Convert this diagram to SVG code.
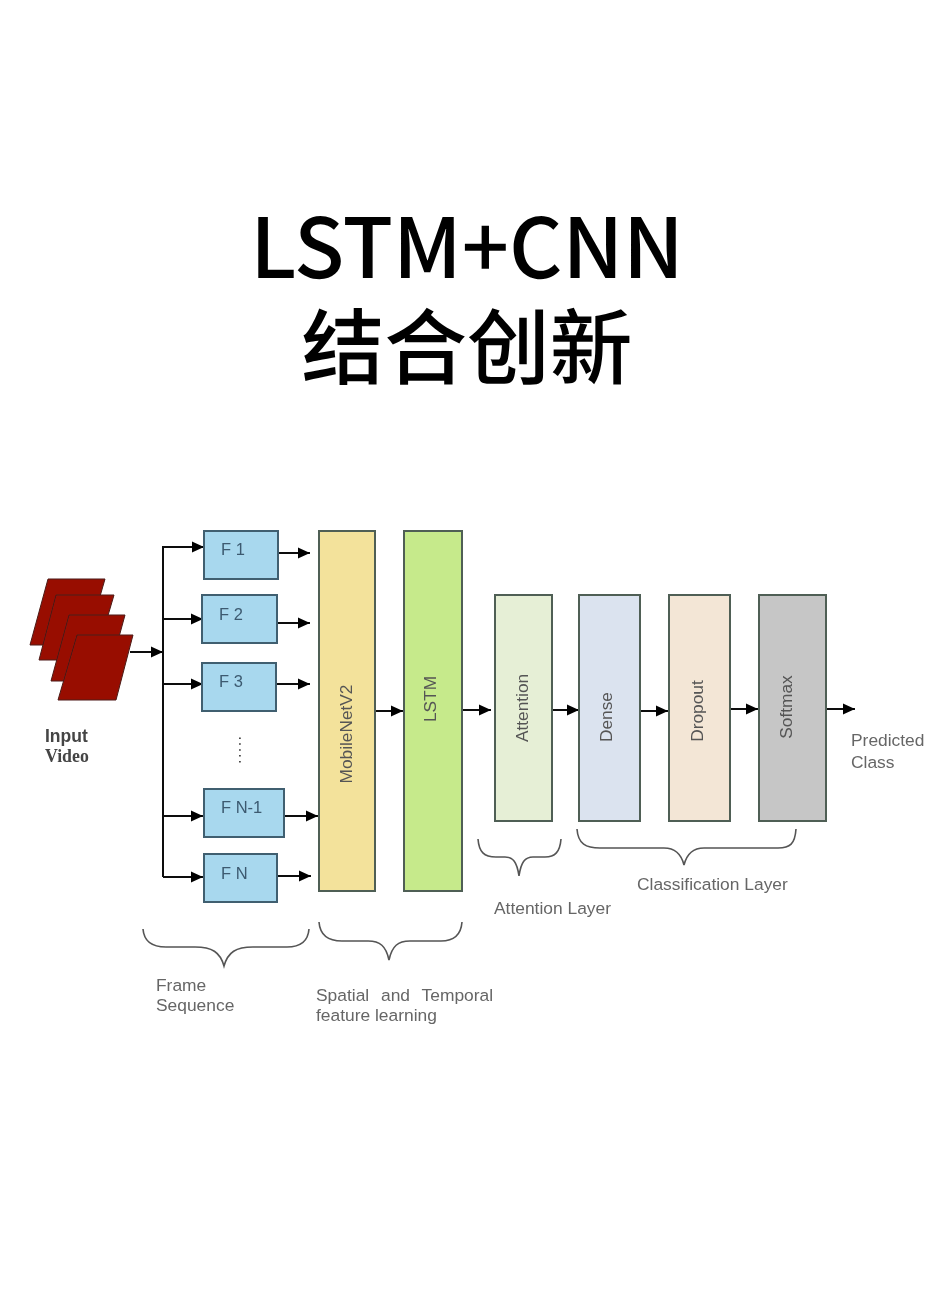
<svg xmlns="http://www.w3.org/2000/svg" width="934" height="1289" viewBox="0 0 934 1289">
<style>
.title{font-family:"Noto Sans CJK SC","Noto Sans",sans-serif;font-size:84px;font-weight:500;fill:#000;text-anchor:middle;text-rendering:geometricPrecision}
.box{stroke:#4f5f55;stroke-width:2}
.f{fill:#a8d8ee;stroke:#3f5f6f;stroke-width:2}
.fl{font-family:"Liberation Sans",Arial,sans-serif;font-size:16.5px;fill:#3c5a70}
.l{font-family:"Liberation Sans",Arial,sans-serif;font-size:17.4px;fill:#666}
.v{font-family:"Liberation Sans",Arial,sans-serif;font-size:17.3px;fill:#555;text-anchor:middle}
.c{fill:none;stroke:#111;stroke-width:2}
.b{fill:none;stroke:#555;stroke-width:1.6}
.p{fill:#981006;stroke:#4a1a14;stroke-width:1}
</style>
<defs>
<marker id="a" markerUnits="userSpaceOnUse" markerWidth="12" markerHeight="12" refX="12" refY="6" orient="auto"><path d="M0 0.5L12 6L0 11.5Z" fill="#000"/></marker>
<filter id="soft" filterUnits="userSpaceOnUse" x="0" y="480" width="934" height="600"><feGaussianBlur stdDeviation="0.45"/></filter>
</defs>
<rect width="934" height="1289" fill="#fff"/>
<text class="title" transform="translate(467 278) scale(.985)">LSTM+CNN</text>
<text class="title" transform="translate(467 378) scale(.985)">结合创新</text>
<g id="diagram" filter="url(#soft)">
<g id="input-video">
<polygon class="p" points="48,579 105,579 86,645 30,645"/>
<polygon class="p" points="56,595 114,595 95,660 39,660"/>
<polygon class="p" points="69,615 125,615 107,681 51,681"/>
<polygon class="p" points="77,635 133,635 116,700 58,700"/>
<text x="45" y="742" style="font-family:'Liberation Sans',sans-serif;font-size:17.5px;font-weight:bold;fill:#444">Input</text>
<text x="45" y="762" style="font-family:'Liberation Serif',serif;font-size:17.8px;font-weight:bold;fill:#444">Video</text>
</g>
<g id="connectors">
<path class="c" d="M130 652H163" marker-end="url(#a)"/>
<path class="c" d="M163 877V547H204" marker-end="url(#a)"/>
<path class="c" d="M163 619H203" marker-end="url(#a)"/>
<path class="c" d="M163 684H203" marker-end="url(#a)"/>
<path class="c" d="M163 816H203" marker-end="url(#a)"/>
<path class="c" d="M163 877H203" marker-end="url(#a)"/>
<path class="c" d="M277 553H310" marker-end="url(#a)"/>
<path class="c" d="M277 623H310" marker-end="url(#a)"/>
<path class="c" d="M277 684H310" marker-end="url(#a)"/>
<path class="c" d="M285 816H318" marker-end="url(#a)"/>
<path class="c" d="M277 876H311" marker-end="url(#a)"/>
<path class="c" d="M375 711H403" marker-end="url(#a)"/>
<path class="c" d="M462 710H491" marker-end="url(#a)"/>
<path class="c" d="M552 710H579" marker-end="url(#a)"/>
<path class="c" d="M641 711H668" marker-end="url(#a)"/>
<path class="c" d="M730 709H758" marker-end="url(#a)"/>
<path class="c" d="M826 709H855" marker-end="url(#a)"/>
</g>
<g id="f1"><rect class="f" x="204" y="531" width="74" height="48"/><text class="fl" x="221" y="555">F 1</text></g>
<g id="f2"><rect class="f" x="202" y="595" width="75" height="48"/><text class="fl" x="219" y="620">F 2</text></g>
<g id="f3"><rect class="f" x="202" y="663" width="74" height="48"/><text class="fl" x="219" y="687">F 3</text></g>
<g id="dots"><text x="238.5" y="736" style="font-family:'Liberation Sans',sans-serif;font-size:16px;fill:#444;letter-spacing:1.4px" transform="rotate(90 238.5 736)">.....</text></g>
<g id="fn1"><rect class="f" x="204" y="789" width="80" height="48"/><text class="fl" x="221" y="813">F N-1</text></g>
<g id="fn"><rect class="f" x="204" y="854" width="73" height="48"/><text class="fl" x="221" y="879">F N</text></g>
<g id="mobilenet"><rect class="box" x="319" y="531" width="56" height="360" fill="#f3e29b"/><text class="v" transform="translate(352 734) rotate(-90)">MobileNetV2</text></g>
<g id="lstm"><rect class="box" x="404" y="531" width="58" height="360" fill="#c6ea8b"/><text class="v" transform="translate(436 699) rotate(-90)">LSTM</text></g>
<g id="attention"><rect class="box" x="495" y="595" width="57" height="226" fill="#e6efd6"/><text class="v" transform="translate(528 708) rotate(-90)">Attention</text></g>
<g id="dense"><rect class="box" x="579" y="595" width="61" height="226" fill="#dbe3ef"/><text class="v" transform="translate(612 717) rotate(-90)">Dense</text></g>
<g id="dropout"><rect class="box" x="669" y="595" width="61" height="226" fill="#f3e6d6"/><text class="v" transform="translate(703 711) rotate(-90)">Dropout</text></g>
<g id="softmax"><rect class="box" x="759" y="595" width="67" height="226" fill="#c6c6c6"/><text class="v" transform="translate(792 707) rotate(-90)">Softmax</text></g>
<g id="braces">
<path class="b" d="M143 929C144 942 152 947 166 947H195C212 947 220 952 224 966C228 952 236 947 253 947H287C300 947 308 942 309 929"/>
<path class="b" d="M319 922C320 935 328 941 342 941H368C380 941 386 946 389 960C392 946 398 941 410 941H441C454 941 461 935 462 922"/>
<path class="b" d="M478 839C479 852 484 857 496 857H505C513 857 517 862 519 876C521 862 525 857 533 857H545C555 857 560 852 561 839"/>
<path class="b" d="M577 829C578 844 586 848 600 848H664C674 848 681 853 684 865C687 853 694 848 704 848H778C790 848 795 844 796 829"/>
</g>
<g id="labels">
<text class="l" x="156" y="991">Frame</text>
<text class="l" x="156" y="1011">Sequence</text>
<text class="l" x="316" y="1001" word-spacing="7">Spatial and Temporal</text>
<text class="l" x="316" y="1021">feature learning</text>
<text class="l" x="494" y="914">Attention Layer</text>
<text class="l" x="637" y="890">Classification Layer</text>
<text class="l" x="851" y="746">Predicted</text>
<text class="l" x="851" y="768">Class</text>
</g>
</g>
</svg>
